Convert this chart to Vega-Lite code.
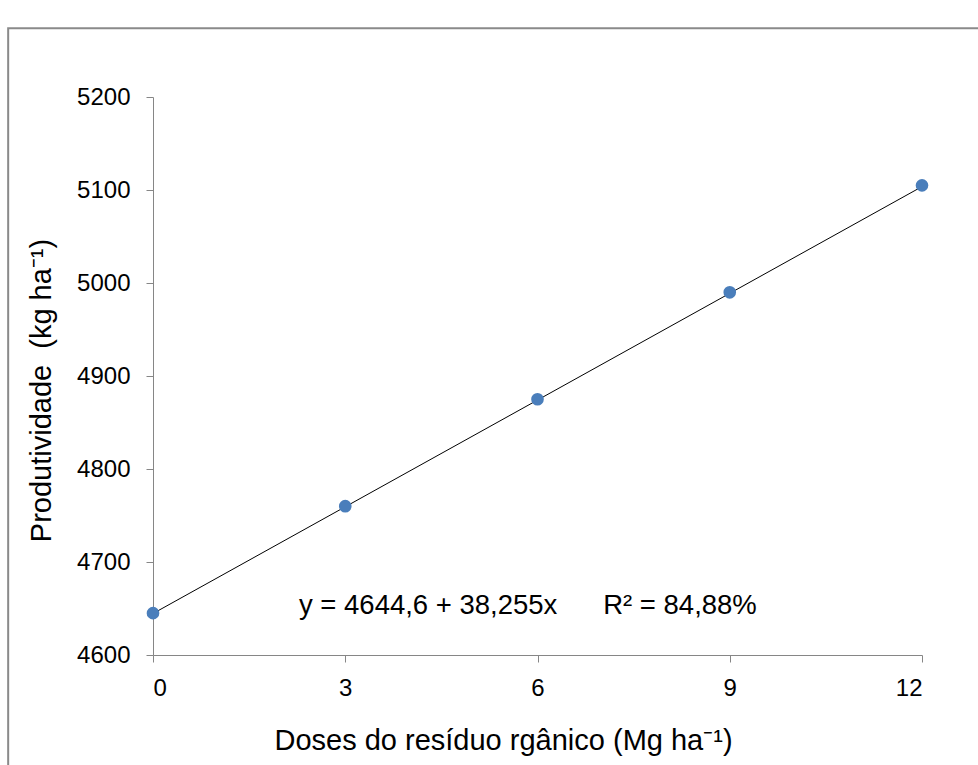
{
  "$schema": "https://vega.github.io/schema/vega-lite/v6.json",
  "autosize": {"type": "none"},
  "padding": {"left": 153, "top": 97, "right": 56, "bottom": 110},
  "width": 769,
  "height": 558,
  "background": "white",
  "config": {
    "view": {"stroke": null},
    "axis": {
      "grid": false,
      "domainColor": "#868686",
      "tickColor": "#868686",
      "domainWidth": 1,
      "tickWidth": 1,
      "tickSize": 7,
      "labelFont": "Liberation Sans",
      "labelFontSize": 24,
      "labelColor": "#000000",
      "titleFont": "Liberation Sans",
      "titleFontSize": 29,
      "titleFontWeight": "normal",
      "titleColor": "#000000"
    }
  },
  "layer": [
    {
      "data": {"values": [{}]},
      "mark": {"type": "rect", "fill": null, "stroke": "#8a8a8a", "strokeWidth": 2, "clip": false},
      "encoding": {
        "x": {"datum": -2.26, "type": "quantitative", "scale": {"domain": [0, 12]}},
        "x2": {"datum": 14},
        "y": {"datum": 5274, "type": "quantitative", "scale": {"domain": [4600, 5200]}},
        "y2": {"datum": 4400}
      }
    },
    {
      "data": {"values": [{"dose": 0, "prod": 4644.6}, {"dose": 12, "prod": 5103.66}]},
      "mark": {"type": "line", "color": "#000000", "strokeWidth": 1},
      "encoding": {
        "x": {"field": "dose", "type": "quantitative"},
        "y": {"field": "prod", "type": "quantitative"}
      }
    },
    {
      "data": {"values": [
        {"dose": 0, "prod": 4645},
        {"dose": 3, "prod": 4760},
        {"dose": 6, "prod": 4875},
        {"dose": 9, "prod": 4990},
        {"dose": 12, "prod": 5105}
      ]},
      "mark": {"type": "point", "filled": true, "color": "#4a7ebb", "opacity": 1, "size": 160},
      "encoding": {
        "x": {
          "field": "dose", "type": "quantitative",
          "scale": {"domain": [0, 12], "nice": false, "zero": false},
          "axis": {
            "values": [0, 3, 6, 9, 12],
            "format": "d",
            "labelPadding": 14,
            "title": "Doses do resíduo rgânico (Mg ha⁻¹)",
            "titleX": 350,
            "titleY": 85,
            "titleAnchor": "middle",
            "titleBaseline": "middle"
          }
        },
        "y": {
          "field": "prod", "type": "quantitative",
          "scale": {"domain": [4600, 5200], "nice": false, "zero": false},
          "axis": {
            "values": [4600, 4700, 4800, 4900, 5000, 5100, 5200],
            "format": "d",
            "labelPadding": 16,
            "title": "Produtividade \u00a0(kg ha⁻¹)",
            "titleX": -112,
            "titleY": 293,
            "titleAnchor": "middle",
            "titleBaseline": "middle",
            "titleAngle": -90
          }
        }
      }
    },
    {
      "data": {"values": [{"label": "y = 4644,6 + 38,255x\u00a0\u00a0\u00a0\u00a0\u00a0\u00a0R² = 84,88%"}]},
      "mark": {"type": "text", "font": "Liberation Sans", "fontSize": 27.5, "color": "#000000", "align": "center", "baseline": "middle"},
      "encoding": {
        "x": {"datum": 5.85, "type": "quantitative"},
        "y": {"datum": 4652.7, "type": "quantitative"},
        "text": {"field": "label"}
      }
    }
  ]
}
